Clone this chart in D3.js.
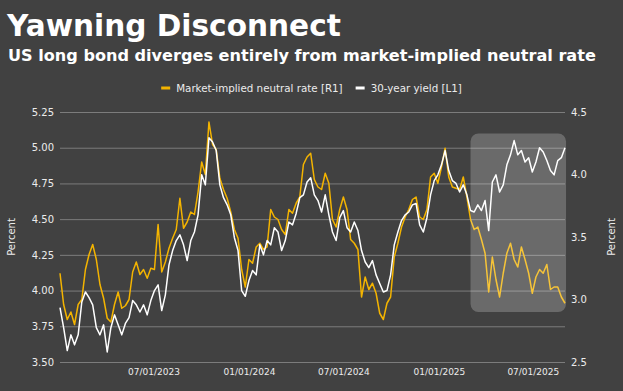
<!DOCTYPE html>
<html><head><meta charset="utf-8">
<script src="https://cdn.jsdelivr.net/npm/d3@7"></script>
<style>html,body{margin:0;padding:0;background:#414141;}svg{display:block;}</style>
</head><body>
<svg id="chart" width="623" height="391"></svg>
<script>
const titleText = "Yawning Disconnect";
const subtitleText = "US long bond diverges entirely from market-implied neutral rate";
const seriesNames = ["Market-implied neutral rate [R1]", "30-year yield [L1]"];
const axisTitle = "Percent";
const startDate = "2023-01-02";
const stepDays = 7;

// Market-implied neutral rate (right axis), weekly readings
const neutralRate = [
3.21,2.96,2.84,2.90,2.80,2.96,3.00,3.24,3.36,3.44,3.32,3.12,3.01,2.85,2.82,2.96,3.06,2.93,2.95,3.00,
3.22,3.30,3.20,3.24,3.17,3.25,3.24,3.60,3.22,3.30,3.41,3.49,3.56,3.81,3.57,3.62,3.70,3.68,3.86,4.10,
4.00,4.42,4.24,4.20,3.97,3.88,3.81,3.70,3.56,3.49,3.24,3.10,3.32,3.29,3.42,3.45,3.40,3.42,3.72,3.66,
3.64,3.56,3.52,3.72,3.69,3.77,3.82,4.08,4.14,4.17,3.96,3.90,3.88,4.01,3.93,3.64,3.58,3.72,3.82,3.72,
3.48,3.45,3.40,3.02,3.18,3.08,3.13,3.05,2.89,2.84,2.97,3.02,3.34,3.45,3.58,3.66,3.72,3.80,3.82,3.66,
3.64,3.72,3.98,4.01,3.93,4.06,4.21,3.98,3.90,3.89,3.88,3.98,3.82,3.64,3.56,3.58,3.48,3.37,3.06,3.34,
3.16,3.02,3.21,3.37,3.45,3.32,3.26,3.42,3.32,3.21,3.05,3.18,3.24,3.21,3.28,3.08,3.10,3.10,3.02,2.97];

// 30-year yield (left axis), weekly readings
const yield30 = [
3.88,3.74,3.58,3.69,3.62,3.69,3.92,3.99,3.95,3.90,3.74,3.69,3.76,3.57,3.74,3.83,3.76,3.69,3.77,3.81,
3.93,3.90,3.85,3.90,3.83,3.93,4.00,4.04,3.86,3.97,4.18,4.28,4.35,4.39,4.32,4.21,4.35,4.41,4.53,4.81,
4.74,5.07,5.04,4.98,4.74,4.65,4.60,4.53,4.37,4.28,4.00,3.96,4.07,4.14,4.11,4.32,4.25,4.35,4.32,4.44,
4.41,4.28,4.35,4.48,4.46,4.54,4.65,4.67,4.76,4.79,4.67,4.63,4.55,4.67,4.53,4.41,4.35,4.51,4.56,4.44,
4.41,4.48,4.42,4.28,4.20,4.16,4.21,4.11,4.05,3.99,4.00,4.11,4.32,4.41,4.49,4.53,4.55,4.60,4.61,4.46,
4.41,4.51,4.67,4.77,4.81,4.88,4.98,4.84,4.77,4.75,4.69,4.74,4.67,4.56,4.55,4.60,4.56,4.63,4.42,4.76,
4.81,4.69,4.74,4.88,4.95,5.05,4.95,4.98,4.90,4.93,4.83,4.90,5.00,4.97,4.91,4.84,4.81,4.91,4.93,5.00];

const leftTicks = [3.50,3.75,4.00,4.25,4.50,4.75,5.00,5.25];
const rightTicks = [2.5,3.0,3.5,4.0,4.5];
const xTickDates = ["2023-07-01","2024-01-01","2024-07-01","2025-01-01","2025-07-01"];
// highlighted window (dates and left-axis values)
const highlightDates = ["2025-03-03","2025-09-03"];
const highlightValues = [3.85, 5.10];

const W = 623, H = 391;
const M = {left:60, right:58, top:112, bottom:29};
const FONT = "DejaVu Sans";
const GOLD = "#f4b400", WHITE = "#ffffff", TEXT = "#ececec", GRID = "#7c7c7c";

const parse = d3.utcParse("%Y-%m-%d");
const t0 = parse(startDate);
const dates = neutralRate.map((_, i) => d3.utcDay.offset(t0, i * stepDays));

const svg = d3.select("#chart");
svg.append("rect").attr("width", W).attr("height", H).attr("fill", "#414141");

const x = d3.scaleUtc().domain(d3.extent(dates)).range([M.left, W - M.right]);
const yL = d3.scaleLinear().domain([3.5, 5.25]).range([H - M.bottom, M.top]);
const yR = d3.scaleLinear().domain([2.5, 4.5]).range([H - M.bottom, M.top]);

// Titles
svg.append("text").attr("x", 7).attr("y", 36).text(titleText)
  .attr("font-family", FONT).attr("font-weight", "bold").attr("font-size", 29.6).attr("fill", "#ffffff");
svg.append("text").attr("x", 8).attr("y", 61).text(subtitleText)
  .attr("font-family", FONT).attr("font-weight", "bold").attr("font-size", 16.1).attr("fill", "#ffffff");

// Left axis + gridlines
const gL = svg.append("g").attr("transform", `translate(${M.left},0)`)
  .call(d3.axisLeft(yL).tickValues(leftTicks).tickSize(-(W - M.left - M.right)).tickPadding(6).tickFormat(d3.format(".2f")));
gL.select(".domain").remove();
gL.selectAll("line").attr("stroke", GRID).attr("stroke-width", 1);
gL.selectAll("text").attr("font-family", FONT).attr("font-size", 10).attr("fill", TEXT);

// Right axis
const gR = svg.append("g").attr("transform", `translate(${W - M.right},0)`)
  .call(d3.axisRight(yR).tickValues(rightTicks).tickSize(0).tickPadding(6).tickFormat(d3.format(".1f")));
gR.select(".domain").remove();
gR.selectAll("text").attr("font-family", FONT).attr("font-size", 10).attr("fill", TEXT);

// Bottom axis
const gX = svg.append("g").attr("transform", `translate(0,${H - M.bottom})`)
  .call(d3.axisBottom(x).tickValues(xTickDates.map(parse)).tickSize(0).tickPadding(7).tickFormat(d3.utcFormat("%m/%d/%Y")));
gX.select(".domain").remove();
gX.selectAll("text").attr("font-family", FONT).attr("font-size", 9).attr("fill", TEXT);

// Axis titles
const midY = (M.top + H - M.bottom) / 2;
svg.append("text").attr("transform", `translate(15,${midY}) rotate(-90)`).attr("text-anchor", "middle")
  .text(axisTitle).attr("font-family", FONT).attr("font-size", 10).attr("fill", TEXT);
svg.append("text").attr("transform", `translate(615,${midY}) rotate(-90)`).attr("text-anchor", "middle")
  .text(axisTitle).attr("font-family", FONT).attr("font-size", 10).attr("fill", TEXT);

// Lines
const goldLine = d3.line().x((d, i) => x(dates[i])).y(d => yR(d));
const whiteLine = d3.line().x((d, i) => x(dates[i])).y(d => yL(d));
svg.append("path").datum(neutralRate).attr("d", goldLine).attr("fill", "none")
  .attr("stroke", GOLD).attr("stroke-width", 1.5).attr("stroke-linejoin", "round");
svg.append("path").datum(yield30).attr("d", whiteLine).attr("fill", "none")
  .attr("stroke", WHITE).attr("stroke-width", 1.5).attr("stroke-linejoin", "round");

// Highlight box
const hx0 = x(parse(highlightDates[0])), hx1 = x(parse(highlightDates[1]));
const hy0 = yL(highlightValues[1]), hy1 = yL(highlightValues[0]);
svg.append("rect").attr("x", hx0).attr("y", hy0).attr("width", hx1 - hx0).attr("height", hy1 - hy0)
  .attr("rx", 8).attr("fill", "#ffffff").attr("fill-opacity", 0.22);

// Legend (centred)
const legendColors = [GOLD, WHITE];
const lg = svg.append("g");
let cx = 0;
seriesNames.forEach((name, i) => {
  const item = lg.append("g").attr("transform", `translate(${cx},0)`);
  item.append("rect").attr("x", 0).attr("y", -1.5).attr("width", 9).attr("height", 3).attr("fill", legendColors[i]);
  const t = item.append("text").attr("x", 15).attr("y", 3.7).text(name)
    .attr("font-family", FONT).attr("font-size", 10.3).attr("fill", TEXT);
  cx += 15 + t.node().getComputedTextLength() + 13;
});
const legendW = cx - 13;
lg.attr("transform", `translate(${(W - legendW) / 2},88)`);
</script>
</body></html>
